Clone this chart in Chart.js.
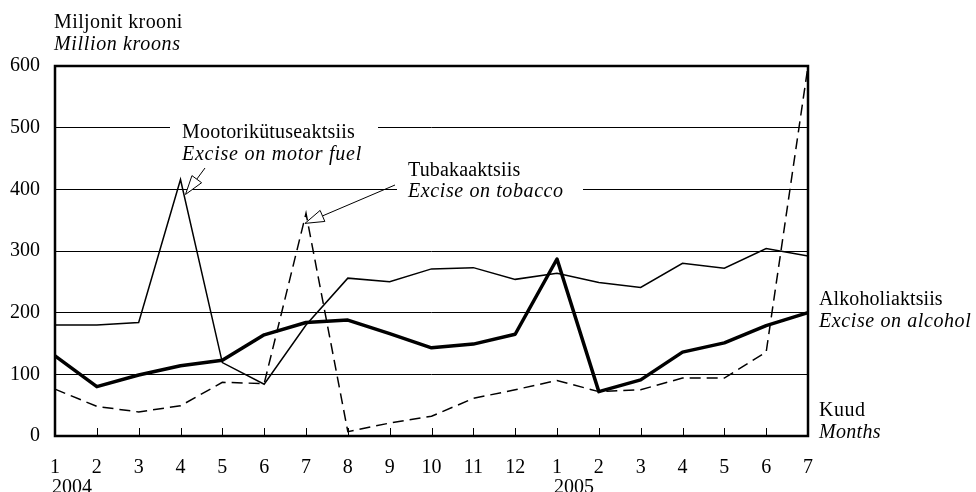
<!DOCTYPE html>
<html>
<head>
<meta charset="utf-8">
<script src="https://cdn.jsdelivr.net/npm/chart.js@4/dist/chart.umd.min.js"></script>
<style>
  html, body { margin: 0; padding: 0; background: #ffffff; }
  canvas { display: block; }
</style>
</head>
<body>
<canvas id="c" width="976" height="492"></canvas>
<script>
// ---- Data ----
const months = ['1','2','3','4','5','6','7','8','9','10','11','12','1','2','3','4','5','6','7'];
const yearLabels = ['2004', '2005'];
const yearStartIndex = [0, 12];
const yTicks = [0, 100, 200, 300, 400, 500, 600];

const motorFuel = [180, 180, 184, 416, 119, 84, 180, 256, 250, 271, 273, 254, 264, 249, 241, 280, 272, 304, 292];
const tobacco   = [76, 48, 39, 49, 87, 85, 361, 7, 21, 32, 61, 75, 90, 72, 75, 94, 94, 136, 600];
const alcohol   = [130, 80, 99, 114, 123, 164, 184, 188, 166, 143, 149, 165, 287, 72, 91, 136, 151, 179, 200];

const FONT = '"Liberation Serif", "Times New Roman", serif';

function arrow(ctx, x1, y1, x2, y2, headLen, headHalf) {
  const ang = Math.atan2(y2 - y1, x2 - x1);
  const bx = x2 - headLen * Math.cos(ang), by = y2 - headLen * Math.sin(ang);
  const px = -Math.sin(ang) * headHalf, py = Math.cos(ang) * headHalf;
  ctx.beginPath();
  ctx.moveTo(x1, y1);
  ctx.lineTo(bx, by);
  ctx.stroke();
  ctx.beginPath();
  ctx.moveTo(x2, y2);
  ctx.lineTo(bx + px, by + py);
  ctx.lineTo(bx - px, by - py);
  ctx.closePath();
  ctx.fillStyle = '#fff';
  ctx.fill();
  ctx.stroke();
}

const decor = {
  id: 'decor',
  beforeDatasetsDraw(chart) {
    const ctx = chart.ctx, y = chart.scales.y;
    ctx.save();
    ctx.fillStyle = '#ffffff';
    const y500 = y.getPixelForValue(500), y400 = y.getPixelForValue(400);
    ctx.fillRect(170, y500 - 2, 208, 4);
    ctx.fillRect(397, y400 - 2, 186, 4);
    ctx.restore();
  },
  afterDatasetsDraw(chart) {
    const ctx = chart.ctx, a = chart.chartArea, x = chart.scales.x, y = chart.scales.y;
    ctx.save();
    // inward tick marks on bottom axis
    ctx.strokeStyle = '#000';
    ctx.lineWidth = 1;
    for (let i = 1; i < months.length - 1; i++) {
      const px = Math.round(x.getPixelForValue(i)) + 0.5;
      ctx.beginPath();
      ctx.moveTo(px, a.bottom);
      ctx.lineTo(px, a.bottom - 8);
      ctx.stroke();
    }
    // plot frame
    ctx.lineWidth = 2.5;
    ctx.strokeRect(a.left, a.top, a.right - a.left, a.bottom - a.top);

    // arrows (open heads)
    ctx.lineWidth = 1;
    ctx.strokeStyle = '#000';
    const mIdx = motorFuel.indexOf(Math.max(...motorFuel));
    const mx = x.getPixelForValue(mIdx), my = y.getPixelForValue(motorFuel[mIdx]);
    arrow(ctx, 205, 168, mx + 5, my + 15, 19, 6);
    const tIdx = 6;
    const tx = x.getPixelForValue(tIdx), ty = y.getPixelForValue(tobacco[tIdx]);
    arrow(ctx, 395, 185, tx - 1, ty + 10, 19, 6);

    // texts
    ctx.fillStyle = '#000';
    ctx.textAlign = 'left';
    ctx.textBaseline = 'alphabetic';
    const reg = '20px ' + FONT, ita = 'italic 20px ' + FONT;
    function t(s, px, py, f, ls) { ctx.font = f; ctx.letterSpacing = (ls || 0) + 'px'; ctx.fillText(s, px, py); }
    t('Miljonit krooni', 54, 28, reg, 0.4);
    t('Million kroons', 54, 50, ita, 0.65);
    t('Mootorikütuseaktsiis', 182, 138, reg, 0.2);
    t('Excise on motor fuel', 182, 160, ita, 0.75);
    t('Tubakaaktsiis', 408, 176, reg, 0.15);
    t('Excise on tobacco', 408, 197, ita, 0.6);
    t('Alkoholiaktsiis', 819, 305, reg, 0.1);
    t('Excise on alcohol', 819, 327, ita, 0.6);
    t('Kuud', 819, 416, reg, 0.5);
    t('Months', 819, 438, ita, 0.3);
    // year labels under month ticks
    for (let k = 0; k < yearLabels.length; k++) {
      const px = x.getPixelForValue(yearStartIndex[k]);
      t(yearLabels[k], px - 3, 493, reg, 0);
    }
    ctx.letterSpacing = '0px';
    ctx.restore();
  }
};

new Chart(document.getElementById('c'), {
  type: 'line',
  data: {
    labels: months,
    datasets: [
      { label: 'Mootorikütuseaktsiis', data: motorFuel, borderColor: '#000', borderWidth: 1.5, pointRadius: 0, tension: 0, fill: false },
      { label: 'Tubakaaktsiis', data: tobacco, borderColor: '#000', borderWidth: 1.5, borderDash: [11, 6], pointRadius: 0, tension: 0, fill: false },
      { label: 'Alkoholiaktsiis', data: alcohol, borderColor: '#000', borderWidth: 3.5, pointRadius: 0, tension: 0, fill: false, borderJoinStyle: 'round' }
    ]
  },
  options: {
    responsive: false,
    animation: false,
    devicePixelRatio: 1,
    layout: { padding: { left: 0, right: 168, top: 66, bottom: 0 } },
    plugins: { legend: { display: false }, tooltip: { enabled: false }, title: { display: false } },
    scales: {
      x: {
        type: 'category',
        offset: false,
        grid: { display: false },
        border: { display: false },
        ticks: { color: '#000', font: { family: FONT, size: 20 }, padding: 12, maxRotation: 0, autoSkip: false },
        afterFit(s) { s.height = 56; }
      },
      y: {
        min: 0, max: 600,
        afterBuildTicks(s) { s.ticks = yTicks.map(v => ({ value: v })); },
        grid: { color: '#000', lineWidth: 1, drawTicks: false },
        border: { display: false },
        ticks: { color: '#000', font: { family: FONT, size: 20 }, padding: 15 },
        afterFit(s) { s.width = 55; }
      }
    }
  },
  plugins: [decor]
});
</script>
</body>
</html>
